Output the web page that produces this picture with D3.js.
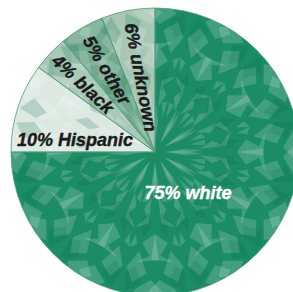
<!DOCTYPE html>
<html lang="en">
<head>
  <meta charset="utf-8" />
  <title>Pie</title>
  <script src="https://cdn.jsdelivr.net/npm/d3@7/dist/d3.min.js"></script>
  <style>
    html, body { margin: 0; padding: 0; background: #fff; overflow: hidden; }
    text { font-family: "Liberation Sans", Arial, sans-serif; font-weight: bold; font-style: italic; }
  </style>
</head>
<body>
<script>
// chart data
var categories = ["white", "Hispanic", "black", "other", "unknown"];
var shares = [75, 10, 4, 5, 6];
var labels = ["75% white", "10% Hispanic", "4% black", "5% other", "6% unknown"];

var width = 293, height = 292;
var cx = 155, cy = 152, radius = 144;

// slice look
var fills = { white: "#1b8c65", Hispanic: "#dce9e1", black: "#a9c9b7", other: "#70a98d", unknown: "#a7c7b4" };
var textColor = { white: "#ffffff", Hispanic: "#1a1a1a", black: "#1a1a1a", other: "#1a1a1a", unknown: "#1a1a1a" };
// distance of label centre from pie centre (rotated ones) / offsets for flat ones
var labelDist = { black: 99, other: 95, unknown: 76 };
var flatOffset = { white: [33, 41], Hispanic: [-80, -12] };

var svg = d3.select("body").append("svg")
    .attr("width", width)
    .attr("height", height);

var g = svg.append("g").attr("transform", "translate(" + cx + "," + cy + ")");

var pie = d3.pie().sort(null).value(function(d, i) { return shares[i]; });
var arc = d3.arc().innerRadius(0).outerRadius(radius);
var arcs = pie(categories);

svg.append("clipPath").attr("id", "pieclip")
  .append("circle").attr("r", radius);

g.selectAll("path.slice")
  .data(arcs)
  .enter()
  .append("path")
  .attr("class", "slice")
  .attr("d", arc)
  .attr("fill", function(d) { return fills[d.data]; });

// kaleidoscope-like texture (decoration only), clipped to pie
var tex = g.append("g").attr("clip-path", "url(#pieclip)");
var shapes = [
  [[0, 10], [6, 30], [2, 48], [-3, 28]],
  [[4, 45], [11, 58], [7, 66], [15, 78], [5, 72]],
  [[0, 82], [8, 92], [3, 104], [10, 112], [-2, 108]],
  [[9, 100], [14, 118], [10, 132], [4, 122]],
  [[2, 128], [9, 140], [4, 150], [-3, 140]],
  [[12, 36], [14, 52], [8, 50]],
  [[13, 84], [15, 98], [11, 94]]
];
var darkShapes = [
  [[6, 60], [11, 70], [8, 86], [3, 76]],
  [[10, 115], [14, 124], [12, 142], [6, 132]]
];
var folds = 12;
function polar(p, rot, flip) {
  var a = ((flip ? -p[0] : p[0]) + rot) * Math.PI / 180;
  return [p[1] * Math.sin(a), -p[1] * Math.cos(a)];
}
function drawSet(set, color, op) {
  d3.range(folds).forEach(function(k) {
    var rot = k * 360 / folds;
    [false, true].forEach(function(flip) {
      set.forEach(function(s) {
        tex.append("path")
          .attr("d", d3.line()(s.map(function(p) { return polar(p, rot, flip); })) + "Z")
          .attr("fill", color)
          .attr("opacity", op);
      });
    });
  });
}
drawSet(shapes, "#ffffff", 0.17);
drawSet(darkShapes, "#0a6e4b", 0.2);

// separators
g.selectAll("path.edge")
  .data(arcs)
  .enter()
  .append("path")
  .attr("class", "edge")
  .attr("d", arc)
  .attr("fill", "none")
  .attr("stroke", "#4f9a78")
  .attr("stroke-width", 0.8);

// labels
g.selectAll("text.lab")
  .data(arcs)
  .enter()
  .append("text")
  .attr("class", "lab")
  .attr("text-anchor", "middle")
  .attr("dominant-baseline", "central")
  .attr("font-size", 18)
  .attr("fill", function(d) { return textColor[d.data]; })
  .attr("stroke", function(d) { return textColor[d.data]; })
  .attr("stroke-width", 0.4)
  .attr("transform", function(d) {
    if (flatOffset[d.data]) return "translate(" + flatOffset[d.data] + ")";
    var mid = (d.startAngle + d.endAngle) / 2;
    var r = labelDist[d.data];
    var x = r * Math.sin(mid), y = -r * Math.cos(mid);
    var deg = mid * 180 / Math.PI - 270;
    return "translate(" + x + "," + y + ") rotate(" + deg + ")";
  })
  .text(function(d, i) { return labels[i]; });
</script>
</body>
</html>
